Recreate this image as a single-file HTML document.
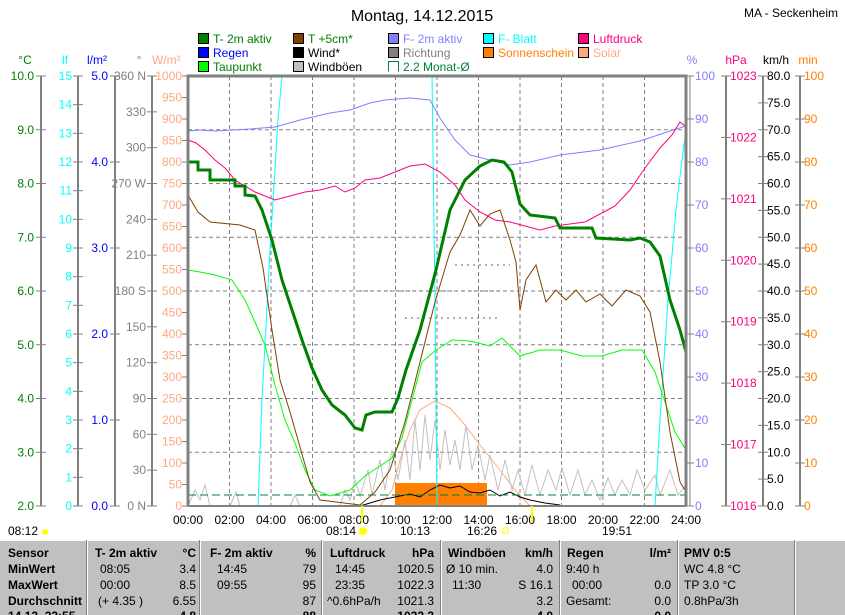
<!DOCTYPE html>
<html><head><meta charset="utf-8"><style>
body{margin:0;background:#fff;}
svg{display:block;font-family:"Liberation Sans",sans-serif;}
</style></head><body>
<svg width="845" height="615" viewBox="0 0 845 615" xmlns="http://www.w3.org/2000/svg">
<rect width="845" height="615" fill="#fff"/>
<text x="422" y="21" font-size="16" text-anchor="middle">Montag, 14.12.2015</text>
<text x="838" y="17" font-size="12" text-anchor="end">MA - Seckenheim</text>
<!-- legend -->
<g font-size="12">
<rect x="198.5" y="33.5" width="10" height="10" fill="#008000" stroke="#000"/><text x="213" y="43" fill="#008000">T- 2m aktiv</text>
<rect x="198.5" y="47.5" width="10" height="10" fill="#0000ff" stroke="#000"/><text x="213" y="57" fill="#0000ff">Regen</text>
<rect x="198.5" y="61.5" width="10" height="10" fill="#00ff00" stroke="#000"/><text x="213" y="71" fill="#008000">Taupunkt</text>
<rect x="293.5" y="33.5" width="10" height="10" fill="#804000" stroke="#000"/><text x="308" y="43" fill="#008000">T +5cm*</text>
<rect x="293.5" y="47.5" width="10" height="10" fill="#000" stroke="#000"/><text x="308" y="57">Wind*</text>
<rect x="293.5" y="61.5" width="10" height="10" fill="#c0c0c0" stroke="#000"/><text x="308" y="71">Windböen</text>
<rect x="388.5" y="33.5" width="10" height="10" fill="#8080ff" stroke="#000"/><text x="403" y="43" fill="#8080ff">F- 2m aktiv</text>
<rect x="388.5" y="47.5" width="10" height="10" fill="#808080" stroke="#000"/><text x="403" y="57" fill="#808080">Richtung</text>
<path d="M388.5 71.5V61.5H398.5V71.5" fill="none" stroke="#008040"/><text x="403" y="71" fill="#008040">2.2 Monat-Ø</text>
<rect x="483.5" y="33.5" width="10" height="10" fill="#00ffff" stroke="#000"/><text x="498" y="43" fill="#00ffff">F- Blatt</text>
<rect x="483.5" y="47.5" width="10" height="10" fill="#ff8000" stroke="#000"/><text x="498" y="57" fill="#ff8000">Sonnenschein</text>
<rect x="578.5" y="33.5" width="10" height="10" fill="#ff0080" stroke="#000"/><text x="593" y="43" fill="#ff0080">Luftdruck</text>
<rect x="578.5" y="47.5" width="10" height="10" fill="#ffa880" stroke="#000"/><text x="593" y="57" fill="#ffa880">Solar</text>
</g>
<!-- units -->
<g font-size="12">
<text x="25" y="64" fill="#008000" text-anchor="middle">°C</text>
<text x="65" y="64" fill="#00ffff" text-anchor="middle">lf</text>
<text x="97" y="64" fill="#0000ff" text-anchor="middle">l/m²</text>
<text x="139" y="64" fill="#808080" text-anchor="middle">°</text>
<text x="152" y="64" fill="#ffa880">W/m²</text>
<text x="692" y="64" fill="#8080ff" text-anchor="middle">%</text>
<text x="736" y="64" fill="#ff0080" text-anchor="middle">hPa</text>
<text x="776" y="64" text-anchor="middle">km/h</text>
<text x="808" y="64" fill="#ff8000" text-anchor="middle">min</text>
</g>
<!-- left axes lines -->
<g stroke="#808080" stroke-width="2">
<line x1="41" y1="76" x2="41" y2="506"/><line x1="78" y1="76" x2="78" y2="506"/>
<line x1="115" y1="76" x2="115" y2="506"/><line x1="152" y1="76" x2="152" y2="506"/>
<line x1="726" y1="76" x2="726" y2="506"/><line x1="763" y1="76" x2="763" y2="506"/><line x1="800" y1="76" x2="800" y2="506"/>
</g>
<g id="ax" font-size="12"></g>
<!-- grid -->
<g stroke="#808080" stroke-dasharray="4,3" stroke-width="1">
<line x1="188" y1="129.75" x2="686" y2="129.75"/><line x1="188" y1="183.5" x2="686" y2="183.5"/>
<line x1="188" y1="237.25" x2="686" y2="237.25"/><line x1="188" y1="291" x2="686" y2="291"/>
<line x1="188" y1="344.75" x2="686" y2="344.75"/><line x1="188" y1="398.5" x2="686" y2="398.5"/>
<line x1="188" y1="452.25" x2="686" y2="452.25"/>
<line x1="229.5" y1="76" x2="229.5" y2="506"/><line x1="271" y1="76" x2="271" y2="506"/>
<line x1="312.5" y1="76" x2="312.5" y2="506"/><line x1="354" y1="76" x2="354" y2="506"/>
<line x1="395.5" y1="76" x2="395.5" y2="506"/><line x1="437" y1="76" x2="437" y2="506"/>
<line x1="478.5" y1="76" x2="478.5" y2="506"/><line x1="520" y1="76" x2="520" y2="506"/>
<line x1="561.5" y1="76" x2="561.5" y2="506"/><line x1="603" y1="76" x2="603" y2="506"/>
<line x1="644.5" y1="76" x2="644.5" y2="506"/>
</g>
<!-- sunshine / solar -->
<rect x="395" y="483" width="92" height="23" fill="#ff8000"/>
<path d="M380 506 L392 490 L400 460 L410 430 L420 410 L435 401 L450 408 L465 425 L480 445 L500 470 L515 490 L530 506" fill="none" stroke="#ffa880"/>
<!-- windboeen -->
<path d="M188 506 L195 490 L200 500 L205 485 L210 506 L230 506 L236 492 L240 506 L290 506 L295 495 L300 506 L340 506 L345 490 L350 500 L355 480 L360 496 L368 470 L372 495 L380 460 L385 490 L392 450 L398 480 L405 440 L410 480 L415 420 L420 470 L425 415 L430 460 L435 420 L440 470 L445 430 L450 465 L455 440 L460 470 L466 425 L472 470 L478 445 L485 480 L490 455 L498 490 L505 460 L512 490 L518 470 L525 495 L532 465 L540 495 L548 470 L556 490 L562 468 L570 495 L578 470 L585 495 L592 480 L600 500 L608 478 L615 495 L622 480 L630 495 L637 470 L645 490 L655 475 L660 495 L670 470 L678 495 L686 485" fill="none" stroke="#c0c0c0"/>
<path d="M360 506 L380 500 L395 497 L410 494 L420 497 L430 490 L440 485 L450 488 L460 486 L470 492 L480 493 L490 490 L500 496 L510 492 L520 497 L530 500 L545 503 L560 505" fill="none" stroke="#000"/>
<line x1="188" y1="495" x2="686" y2="495" stroke="#008040" stroke-dasharray="8,4"/>
<!-- F-Blatt -->
<path d="M188 506 L258 506 L262 400 L270 250 L278 120 L282 76 L432 76 L435 300 L437 506 L655 506 L660 420 L668 300 L676 210 L682 160 L686 130" fill="none" stroke="#00ffff"/>
<!-- dotted direction -->
<g stroke="#606060" stroke-dasharray="2,4"><line x1="455" y1="265" x2="510" y2="265"/><line x1="360" y1="291" x2="500" y2="291"/><line x1="405" y1="318" x2="498" y2="318"/></g>
<!-- F-2m -->
<path d="M188 131 L200 130 L215 131 L250 129 L275 127 L300 120 L330 113 L350 110 L370 103 L385 100 L410 98 L430 100 L440 118 L455 140 L470 155 L490 160 L510 165 L530 162 L560 155 L600 150 L640 141 L670 131 L686 126" fill="none" stroke="#8080ff"/>
<!-- Luftdruck -->
<path d="M188 140 L196 143 L205 150 L215 160 L225 168 L235 180 L245 186 L255 192 L265 196 L275 200 L290 196 L305 192 L320 190 L335 186 L345 192 L355 188 L365 180 L380 178 L395 172 L410 166 L425 164 L440 172 L455 185 L465 200 L480 212 L495 220 L510 222 L525 226 L540 230 L555 226 L570 224 L585 222 L600 214 L615 206 L630 190 L645 168 L660 148 L672 135 L680 122 L686 127" fill="none" stroke="#ff0080"/>
<!-- Taupunkt -->
<path d="M188 270 L200 272 L215 275 L232 280 L245 300 L255 322 L265 345 L275 385 L285 420 L295 443 L305 470 L315 490 L330 496 L350 490 L365 476 L380 466 L392 458 L402 438 L412 400 L422 362 L436 350 L452 340 L470 341 L490 346 L502 338 L520 356 L540 350 L560 350 L582 356 L602 356 L622 350 L642 350 L655 372 L665 402 L675 432 L686 450" fill="none" stroke="#00ff00"/>
<!-- T+5cm -->
<path d="M188 195 L198 212 L210 222 L240 225 L255 230 L263 268 L272 330 L280 380 L290 412 L300 447 L310 482 L320 500 L360 505 L375 492 L390 470 L405 422 L420 362 L435 302 L450 252 L460 235 L470 210 L480 226 L490 214 L500 210 L510 240 L516 262 L520 310 L526 280 L536 265 L546 302 L556 290 L566 300 L576 290 L586 302 L600 294 L612 306 L626 290 L640 296 L650 312 L660 362 L670 432 L680 482 L686 492" fill="none" stroke="#804000"/>
<!-- T-2m -->
<path d="M188 162 L198 162 L198 170 L210 170 L210 180 L235 180 L235 186 L245 186 L245 195 L255 196 L262 210 L272 240 L282 280 L292 310 L302 340 L312 368 L322 390 L332 405 L345 415 L355 428 L362 430 L366 415 L375 412 L392 412 L398 398 L406 370 L420 330 L436 270 L450 210 L465 180 L480 166 L492 160 L504 162 L512 172 L520 204 L530 215 L555 218 L560 228 L592 228 L596 238 L630 240 L640 238 L650 242 L660 256 L670 300 L680 330 L686 352" fill="none" stroke="#008000" stroke-width="3"/>
<!-- plot frame -->
<path d="M188 506 L188 76 L686 76 L686 506" fill="none" stroke="#808080" stroke-width="3"/>
<line x1="188" y1="506" x2="686" y2="506" stroke="#808080" stroke-width="2"/>
<g stroke="#808080"><line x1="690" y1="76" x2="690" y2="506"/></g>
<!-- time labels -->
<g font-size="12" text-anchor="middle">
<text x="188" y="524">00:00</text><text x="229.5" y="524">02:00</text><text x="271" y="524">04:00</text>
<text x="312.5" y="524">06:00</text><text x="354" y="524">08:00</text><text x="395.5" y="524">10:00</text>
<text x="437" y="524">12:00</text><text x="478.5" y="524">14:00</text><text x="520" y="524">16:00</text>
<text x="561.5" y="524">18:00</text><text x="603" y="524">20:00</text><text x="644.5" y="524">22:00</text><text x="686" y="524">24:00</text>
</g>
<g font-size="12"><text x="8" y="535">08:12</text><circle cx="45" cy="532" r="3" fill="#ffff00"/>
<text x="326" y="535">08:14</text><circle cx="363" cy="531" r="4" fill="#ffff00"/>
<text x="400" y="535">10:13</text><text x="467" y="535">16:26</text><rect x="503" y="528" width="5" height="5" fill="none" stroke="#ffff00"/>
<text x="602" y="535">19:51</text>
<line x1="362" y1="506" x2="362" y2="522" stroke="#ffff00" stroke-width="2"/><line x1="532" y1="506" x2="532" y2="522" stroke="#ffff00" stroke-width="2"/></g>
<!-- table -->
<rect x="0" y="540" width="845" height="75" fill="#c0c0c0"/>
<g stroke="#fff"><line x1="0" y1="540.5" x2="845" y2="540.5"/><line x1="87.5" y1="540" x2="87.5" y2="615"/><line x1="200.5" y1="540" x2="200.5" y2="615"/><line x1="322.5" y1="540" x2="322.5" y2="615"/><line x1="441.5" y1="540" x2="441.5" y2="615"/><line x1="560.5" y1="540" x2="560.5" y2="615"/><line x1="678.5" y1="540" x2="678.5" y2="615"/><line x1="795.5" y1="540" x2="795.5" y2="615"/></g>
<g stroke="#808080"><line x1="86.5" y1="540" x2="86.5" y2="615"/><line x1="199.5" y1="540" x2="199.5" y2="615"/><line x1="321.5" y1="540" x2="321.5" y2="615"/><line x1="440.5" y1="540" x2="440.5" y2="615"/><line x1="559.5" y1="540" x2="559.5" y2="615"/><line x1="677.5" y1="540" x2="677.5" y2="615"/><line x1="794.5" y1="540" x2="794.5" y2="615"/></g>
<g font-size="12">
<g font-weight="bold"><text x="8" y="557">Sensor</text><text x="8" y="573">MinWert</text><text x="8" y="589">MaxWert</text><text x="8" y="605">Durchschnitt</text><text x="8" y="620">14.12. 22:55</text>
<text x="95" y="557">T- 2m aktiv</text><text x="196" y="557" text-anchor="end">°C</text>
<text x="210" y="557">F- 2m aktiv</text><text x="316" y="557" text-anchor="end">%</text>
<text x="330" y="557">Luftdruck</text><text x="434" y="557" text-anchor="end">hPa</text>
<text x="448" y="557">Windböen</text><text x="553" y="557" text-anchor="end">km/h</text>
<text x="567" y="557">Regen</text><text x="671" y="557" text-anchor="end">l/m²</text>
<text x="684" y="557">PMV 0:5</text>
<text x="196" y="620" text-anchor="end">4.8</text><text x="316" y="620" text-anchor="end">88</text><text x="434" y="620" text-anchor="end">1022.3</text><text x="553" y="620" text-anchor="end">4.0</text><text x="671" y="620" text-anchor="end">0.0</text></g>
<text x="100" y="573">08:05</text><text x="196" y="573" text-anchor="end">3.4</text>
<text x="100" y="589">00:00</text><text x="196" y="589" text-anchor="end">8.5</text>
<text x="98" y="605">(+ 4.35 )</text><text x="196" y="605" text-anchor="end">6.55</text>
<text x="217" y="573">14:45</text><text x="316" y="573" text-anchor="end">79</text>
<text x="217" y="589">09:55</text><text x="316" y="589" text-anchor="end">95</text>
<text x="316" y="605" text-anchor="end">87</text>
<text x="335" y="573">14:45</text><text x="434" y="573" text-anchor="end">1020.5</text>
<text x="335" y="589">23:35</text><text x="434" y="589" text-anchor="end">1022.3</text>
<text x="327" y="605">^0.6hPa/h</text><text x="434" y="605" text-anchor="end">1021.3</text>
<text x="446" y="573">Ø 10 min.</text><text x="553" y="573" text-anchor="end">4.0</text>
<text x="452" y="589">11:30</text><text x="553" y="589" text-anchor="end">S 16.1</text>
<text x="553" y="605" text-anchor="end">3.2</text>
<text x="566" y="573">9:40 h</text>
<text x="572" y="589">00:00</text><text x="671" y="589" text-anchor="end">0.0</text>
<text x="566" y="605">Gesamt:</text><text x="671" y="605" text-anchor="end">0.0</text>
<text x="684" y="573">WC 4.8 °C</text><text x="684" y="589">TP 3.0 °C</text><text x="684" y="605">0.8hPa/3h</text>
</g>
</svg>
<script>
(function(){
var g=document.getElementById('ax'),ns='http://www.w3.org/2000/svg',T=76,B=506,H=B-T;
function t(x,y,s,c,a){var e=document.createElementNS(ns,'text');e.setAttribute('x',x);e.setAttribute('y',y+4);e.setAttribute('fill',c);e.setAttribute('text-anchor',a||'end');e.textContent=s;g.appendChild(e);}
function k(x1,x2,y){var e=document.createElementNS(ns,'line');e.setAttribute('x1',x1);e.setAttribute('x2',x2);e.setAttribute('y1',y);e.setAttribute('y2',y);e.setAttribute('stroke','#808080');g.appendChild(e);}
var i,y;
for(i=0;i<=8;i++){y=B-H*i/8;k(36,46,y);t(34,y,(2+i).toFixed(1),'#008000');}
for(i=0;i<=15;i++){y=B-H*i/15;k(73,83,y);t(72,y,i,'#00ffff');}
for(i=0;i<=5;i++){y=B-H*i/5;k(110,120,y);t(108,y,i.toFixed(1),'#0000ff');}
var dn={0:'0 N',3:'90 ',6:'180 S',9:'270 W',12:'360 N'};
for(i=0;i<=12;i++){y=B-H*i/12;k(147,157,y);t(146,y,dn[i]!==undefined?dn[i]:(i*30),'#808080');}
for(i=0;i<=20;i++){y=B-H*i/20;k(182,188,y);t(182,y,i*50,'#ffa880');}
for(i=0;i<=10;i++){y=B-H*i/10;k(686,694,y);t(695,y,i*10,'#8080ff','start');}
for(i=0;i<=7;i++){y=B-H*i/7;k(721,731,y);t(730,y,1016+i,'#ff0080','start');}
for(i=0;i<=16;i++){y=B-H*i/16;k(758,768,y);t(767,y,(i*5).toFixed(1),'#000','start');}
for(i=0;i<=10;i++){y=B-H*i/10;k(795,805,y);t(804,y,i*10,'#ff8000','start');}
})();
</script>
</body></html>
